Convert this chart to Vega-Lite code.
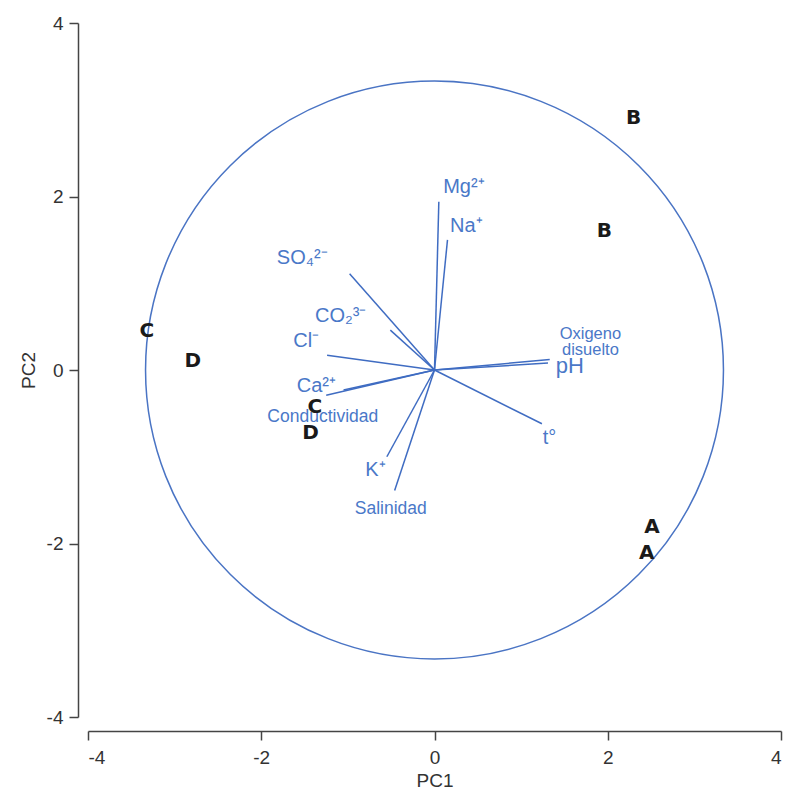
{
  "$schema": "https://vega.github.io/schema/vega-lite/v6.json",
  "width": 693,
  "height": 694,
  "autosize": "none",
  "padding": {"left": 88, "top": 23, "right": 6, "bottom": 77},
  "background": "white",
  "config": {
    "view": {"stroke": null},
    "axis": {
      "grid": false,
      "domainColor": "#444444",
      "domainWidth": 1.5,
      "tickColor": "#444444",
      "tickWidth": 1.5,
      "labelFont": "Liberation Sans",
      "labelFontSize": 19,
      "labelColor": "#333333",
      "titleFont": "Liberation Sans",
      "titleFontSize": 19,
      "titleFontWeight": "normal",
      "titleColor": "#333333"
    }
  },
  "datasets": {
    "vectors": [
      {"var": "Mg", "x": 0.05, "y": 1.94},
      {"var": "Na", "x": 0.15, "y": 1.50},
      {"var": "SO4", "x": -0.98, "y": 1.11},
      {"var": "CO2", "x": -0.51, "y": 0.46},
      {"var": "Cl", "x": -1.24, "y": 0.17},
      {"var": "Ca", "x": -1.25, "y": -0.29},
      {"var": "Conductividad", "x": -1.05, "y": -0.23},
      {"var": "K", "x": -0.55, "y": -1.00},
      {"var": "Salinidad", "x": -0.46, "y": -1.39},
      {"var": "Oxigeno", "x": 1.33, "y": 0.12},
      {"var": "pH", "x": 1.31, "y": 0.08},
      {"var": "t", "x": 1.24, "y": -0.62}
    ],
    "labels": [
      {"label": "Mg²⁺", "x": 0.10, "y": 2.11, "grp": "ion"},
      {"label": "Na⁺", "x": 0.18, "y": 1.66, "grp": "ion"},
      {"label": "SO₄²⁻", "x": -1.82, "y": 1.29, "grp": "ion"},
      {"label": "CO₂³⁻", "x": -1.38, "y": 0.62, "grp": "ion"},
      {"label": "Cl⁻", "x": -1.63, "y": 0.34, "grp": "ion"},
      {"label": "Ca²⁺", "x": -1.59, "y": -0.18, "grp": "ion"},
      {"label": "K⁺", "x": -0.80, "y": -1.15, "grp": "ion"},
      {"label": "t°", "x": 1.25, "y": -0.78, "grp": "ion"},
      {"label": "pH", "x": 1.40, "y": 0.045, "grp": "big"},
      {"label": "Conductividad", "x": -1.93, "y": -0.54, "grp": "small"},
      {"label": "Salinidad", "x": -0.92, "y": -1.60, "grp": "small"}
    ],
    "sites": [
      {"site": "B", "x": 2.30, "y": 2.90},
      {"site": "B", "x": 1.96, "y": 1.60},
      {"site": "C", "x": -3.32, "y": 0.45},
      {"site": "D", "x": -2.79, "y": 0.10},
      {"site": "C", "x": -1.38, "y": -0.43},
      {"site": "D", "x": -1.43, "y": -0.73},
      {"site": "A", "x": 2.51, "y": -1.81},
      {"site": "A", "x": 2.45, "y": -2.11}
    ]
  },
  "layer": [
    {
      "data": {"values": [{"x": 0, "y": 0}]},
      "mark": {"type": "point", "shape": "circle", "filled": false, "size": 334000, "stroke": "#4a74c4", "strokeWidth": 1.5, "opacity": 1},
      "encoding": {
        "x": {"field": "x", "type": "quantitative", "scale": {"domain": [-4, 4], "nice": false},
              "axis": {"values": [-4, -2, 0, 2, 4], "tickSize": 9, "labelPadding": 8, "title": "PC1", "titlePadding": 4, "offset": 14,
                       "labelExpr": "datum.value < 0 ? '-' + abs(datum.value) : '' + datum.value"}},
        "y": {"field": "y", "type": "quantitative", "scale": {"domain": [-4, 4], "nice": false},
              "axis": {"values": [-4, -2, 0, 2, 4], "tickSize": 9, "labelPadding": 6, "title": "PC2", "titlePadding": 8, "offset": 10,
                       "labelExpr": "datum.value < 0 ? '-' + abs(datum.value) : '' + datum.value"}}
      }
    },
    {
      "data": {"name": "vectors"},
      "mark": {"type": "rule", "stroke": "#3f6cc2", "strokeWidth": 1.5},
      "encoding": {
        "x": {"field": "x", "type": "quantitative"},
        "y": {"field": "y", "type": "quantitative"},
        "x2": {"datum": 0},
        "y2": {"datum": 0}
      }
    },
    {
      "data": {"name": "labels"},
      "transform": [{"filter": "datum.grp === 'ion'"}],
      "mark": {"type": "text", "align": "left", "baseline": "middle", "font": "Liberation Sans", "fontSize": 20, "color": "#4a78c8"},
      "encoding": {
        "x": {"field": "x", "type": "quantitative"},
        "y": {"field": "y", "type": "quantitative"},
        "text": {"field": "label"}
      }
    },
    {
      "data": {"name": "labels"},
      "transform": [{"filter": "datum.grp === 'big'"}],
      "mark": {"type": "text", "align": "left", "baseline": "middle", "font": "Liberation Sans", "fontSize": 22, "color": "#4a78c8"},
      "encoding": {
        "x": {"field": "x", "type": "quantitative"},
        "y": {"field": "y", "type": "quantitative"},
        "text": {"field": "label"}
      }
    },
    {
      "data": {"name": "labels"},
      "transform": [{"filter": "datum.grp === 'small'"}],
      "mark": {"type": "text", "align": "left", "baseline": "middle", "font": "Liberation Sans", "fontSize": 17.5, "color": "#4a78c8"},
      "encoding": {
        "x": {"field": "x", "type": "quantitative"},
        "y": {"field": "y", "type": "quantitative"},
        "text": {"field": "label"}
      }
    },
    {
      "data": {"values": [{"label": "Oxigeno\ndisuelto", "x": 1.80, "y": 0.41}]},
      "mark": {"type": "text", "align": "center", "baseline": "middle", "font": "Liberation Sans", "fontSize": 16.5, "lineHeight": 16, "lineBreak": "\n", "color": "#4a78c8"},
      "encoding": {
        "x": {"field": "x", "type": "quantitative"},
        "y": {"field": "y", "type": "quantitative"},
        "text": {"field": "label"}
      }
    },
    {
      "data": {"name": "sites"},
      "mark": {"type": "text", "align": "center", "baseline": "middle", "font": "DejaVu Sans", "fontWeight": "bold", "fontSize": 20, "color": "#1a1a1a"},
      "encoding": {
        "x": {"field": "x", "type": "quantitative"},
        "y": {"field": "y", "type": "quantitative"},
        "text": {"field": "site"}
      }
    }
  ]
}
